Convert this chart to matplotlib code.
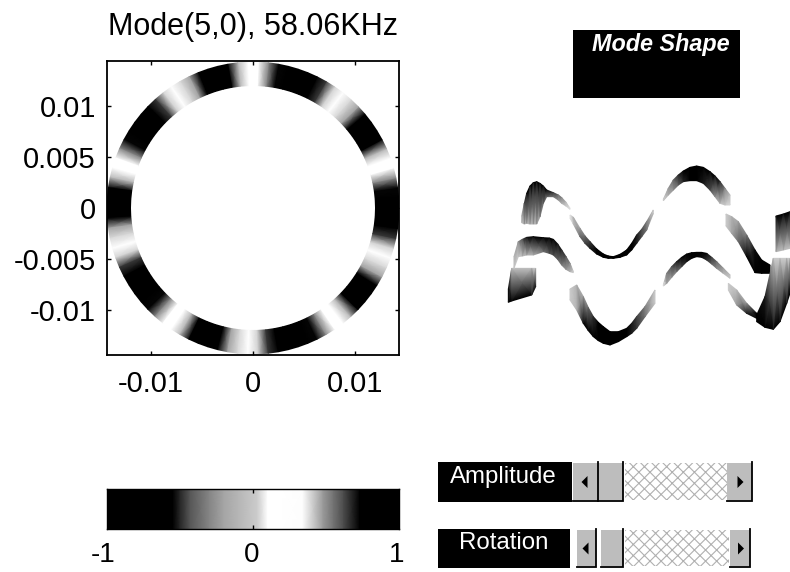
# coding: utf-8
import numpy as np
import matplotlib
matplotlib.use('Agg')
import matplotlib.pyplot as plt
from matplotlib.colors import LinearSegmentedColormap
from matplotlib.patches import Rectangle, Polygon

plt.rcParams['font.family'] = ['Liberation Sans', 'DejaVu Sans']
plt.rcParams['hatch.linewidth'] = 0.8

title = 'Mode(5,0), 58.06KHz'
x_ticks = [-0.01, 0, 0.01]
x_labels = ['-0.01', '0', '0.01']
y_ticks = [-0.01, -0.005, 0, 0.005, 0.01]
y_labels = ['-0.01', '-0.005', '0', '0.005', '0.01']
r_inner, r_outer = 0.0120, 0.0143

# grey level of the colour bar, read left to right
cbar_pos = [-1, -0.55, -0.43, -0.2, 0.03, 0.1, 0.34, 0.48, 0.62, 0.73, 1]
cbar_grey = [0, 0, 0.35, 0.65, 0.8, 1, 1, 0.6, 0.3, 0, 0]
cbar_vals = [-1, -0.9, -0.8, -0.7, -0.6, -0.55, -0.5, -0.43, -0.3, -0.2, -0.1, 0.03, 0.1, 0.2,
             0.34, 0.48, 0.55, 0.62, 0.73, 0.8, 0.9, 1]
cbar_labels = ['-1', '0', '1']

# ring value every 4 degrees, counter clockwise from the right side
ring_vals = [1, 1, .72, .5, .3, .1, -.1, -.55, -1, -1, -.55, -.2, .05, .2, .4, .65, 1, 1,
             1, 1, .72, .5, .3, .1, -.1, -.55, -1, -1, -.55, -.2, .05, .2, .4, .65, 1, 1,
             1, 1, .72, .5, .3, .1, -.1, -.55, -1, -1, -.55, -.2, .05, .2, .4, .65, 1, 1,
             1, 1, .72, .5, .3, .1, -.1, -.55, -1, -1, -.55, -.2, .05, .2, .4, .65, 1, 1,
             1, 1, .72, .5, .3, .1, -.1, -.55, -1, -1, -.55, -.2, .05, .2, .4, .65, 1, 1]

# ribbon pieces: x, top edge, bottom edge, darkness on top edge, darkness on bottom edge
bands = [
    # back wave
    ([95, 103, 110, 120, 130, 140, 150, 160, 170, 190, 205, 215, 228, 240],
     [228, 190, 160, 138, 128, 125, 130, 138, 150, 158, 165, 173, 187, 205],
     [248, 252, 250, 252, 252, 252, 230, 190, 170, 170, 180, 190, 198, 208],
     [.3, .75, 1, 1, 1, 1, 1, 1, 1, .8, .6, .5, .3, .1],
     [.25, .3, .3, .3, .3, .3, .4, .55, .6, .55, .4, .3, .2, .1]),
    ([240, 250, 270, 285, 300, 320, 340, 355, 370, 390, 410, 425, 440, 455, 470, 490],
     [225, 232, 265, 288, 305, 327, 342, 348, 350, 343, 330, 310, 285, 268, 245, 210],
     [235, 252, 290, 310, 325, 342, 352, 355, 355, 352, 345, 330, 310, 290, 270, 220],
     [.1, .3, .35, .55, .75, 1, 1, 1, 1, 1, 1, 1, .9, .7, .5, .2],
     [.1, .25, .6, .75, .9, 1, 1, 1, 1, 1, 1, 1, .9, .7, .55, .2]),
    ([520, 535, 550, 565, 580, 600, 620, 640, 660, 675, 690, 705, 720],
     [178, 145, 120, 105, 93, 82, 78, 82, 95, 108, 125, 145, 165],
     [182, 165, 150, 135, 125, 122, 122, 130, 150, 170, 190, 195, 195],
     [.2, .4, .6, .85, 1, 1, 1, 1, 1, 1, .9, .5, .25],
     [.2, .3, .4, .6, .85, 1, 1, .9, .7, .4, .25, .2, .15]),
    ([708, 725, 745, 770, 795, 815, 840],
     [222, 230, 245, 285, 330, 360, 375],
     [258, 280, 305, 350, 398, 400, 400],
     [.2, .3, .35, .5, .95, 1, 1],
     [.2, .35, .6, 1, 1, 1, 1]),
    ([858, 880, 900],
     [228, 222, 215],
     [335, 330, 325],
     [1, 1, 1],
     [.3, .25, .25]),
    # front wave
    ([55, 65, 125, 137],
     [447, 385, 385, 385],
     [487, 483, 465, 440],
     [1, .25, .25, .2],
     [1, 1, 1, .9]),
    ([72, 85, 97, 110, 130, 160, 178, 190, 203, 215, 228, 240, 250],
     [350, 305, 298, 292, 290, 293, 294, 298, 312, 330, 350, 370, 395],
     [385, 350, 348, 345, 345, 335, 340, 345, 358, 375, 388, 395, 398],
     [.3, .45, .7, .95, 1, 1, 1, 1, .95, .9, .7, .5, .2],
     [.2, .2, .25, .3, .3, .55, .65, .7, .6, .5, .4, .3, .15]),
    ([240, 260, 280, 295, 310, 325, 340, 360, 385, 410, 425, 440, 465, 495],
     [447, 435, 470, 503, 530, 547, 560, 575, 575, 565, 550, 530, 500, 450],
     [480, 510, 550, 572, 590, 602, 610, 615, 605, 590, 580, 565, 530, 490],
     [.2, .3, .35, .55, .8, 1, 1, 1, 1, 1, .9, .75, .5, .2],
     [.2, .3, 1, 1, 1, 1, 1, 1, 1, 1, .9, .8, .55, .2]),
    ([520, 530, 545, 560, 575, 590, 605, 620, 635, 650, 665, 680, 700, 720],
     [435, 400, 380, 365, 352, 342, 338, 337, 337, 340, 352, 365, 385, 405],
     [438, 430, 412, 395, 380, 365, 355, 350, 352, 360, 372, 385, 400, 415],
     [.15, .5, .7, .9, 1, 1, 1, 1, 1, 1, .8, .6, .4, .25],
     [.15, .35, .4, .5, .7, .9, 1, 1, .95, .8, .6, .45, .3, .2]),
    ([715, 740, 770, 800],
     [430, 450, 490, 520],
     [450, 495, 520, 535],
     [.2, .25, .4, 1],
     [.2, .4, .9, 1]),
    ([800, 825, 850, 870, 890, 900],
     [525, 470, 355, 355, 355, 355],
     [545, 562, 568, 545, 490, 460],
     [1, .9, .2, .2, .2, .2],
     [1, 1, 1, 1, 1, 1]),
]

slider_names = ['Amplitude', 'Rotation']

fig = plt.figure(figsize=(7.9, 5.72), dpi=100)
W, H = 790.0, 572.0


def px_axes(x0, y0, x1, y1):
    return fig.add_axes([x0 / W, 1 - y1 / H, (x1 - x0) / W, (y1 - y0) / H])


cmap = LinearSegmentedColormap.from_list(
    'scan', [((p + 1) / 2, (g, g, g)) for p, g in zip(cbar_pos, cbar_grey)], N=512)

# ring
ax = px_axes(107, 61, 399, 355)
th = np.radians(np.arange(len(ring_vals) + 1) * 4.0)
rr = np.array([r_inner, r_outer])
X = np.outer(rr, np.cos(th))
Y = np.outer(rr, np.sin(th))
C = np.array(ring_vals + ring_vals[:1])
C = np.vstack([C, C])
ax.pcolormesh(X, Y, C, cmap=cmap, vmin=-1, vmax=1, shading='gouraud')
ax.set_xlim(-0.0143, 0.0143)
ax.set_ylim(-0.0144, 0.0144)
ax.set_xticks(x_ticks)
ax.set_xticklabels(x_labels)
ax.set_yticks(y_ticks)
ax.set_yticklabels(y_labels)
ax.tick_params(direction='in', length=3, width=1, top=True, right=True, labelsize=21)
ax.tick_params(axis='x', pad=11)
ax.tick_params(axis='y', pad=8)
for s in ax.spines.values():
    s.set_linewidth(1.3)
fig.text(253 / W, 1 - 27 / H, title, ha='center', va='center', fontsize=22)

# colour bar
cax = px_axes(107, 489, 399, 529)
bx = np.array(cbar_vals, dtype=float)
cax.pcolormesh(bx, [0, 1], np.vstack([bx, bx]), cmap=cmap, vmin=-1, vmax=1, shading='gouraud')
cax.set_xlim(-1, 1)
cax.set_ylim(0, 1)
cax.set_yticks([])
cax.set_xticks([0])
cax.set_xticklabels([''])
cax.tick_params(direction='in', length=3, width=1, top=True)
for s in cax.spines.values():
    s.set_linewidth(1.0)
for lab, x in zip(cbar_labels, [103, 252, 397]):
    fig.text(x / W, 1 - 555 / H, lab, ha='center', va='center', fontsize=20)

# mode shape ribbons, axes units are the crop of the picture
rax = px_axes(490, 140, 790, 360)
for xs, top, bot, dt, db in bands:
    xs2 = np.array([xs, xs], dtype=float)
    ys2 = np.array([top, bot], dtype=float)
    rax.pcolormesh(xs2, ys2, np.array([dt, db]), cmap='gray_r', vmin=0, vmax=1, shading='gouraud')
rax.set_xlim(0, 900)
rax.set_ylim(660, 0)
rax.axis('off')

# widgets drawn in figure pixels
ui = px_axes(0, 0, 790, 572)
ui.set_xlim(0, 790)
ui.set_ylim(572, 0)
ui.axis('off')
ui.patch.set_alpha(0)
ui.add_patch(Rectangle((573, 30), 167, 68, fc='black', ec='none'))
ui.text(661, 45, 'Mode Shape', color='white', ha='center', va='center', fontsize=16.8,
        fontweight='bold', style='italic')

rows = [(462, 502, 438, 572, 573, 598, 598, 623, 625, 727, 727, 752),
        (529, 568, 438, 570, 577, 596, 601, 623, 625, 729, 730, 750)]
text_y = [477, 543]
for name, r, ty in zip(slider_names, rows, text_y):
    y0, y1, lx0, lx1, bx0, bx1, tx0, tx1, sx0, sx1, rx0, rx1 = r
    ui.add_patch(Rectangle((lx0, y0), lx1 - lx0, y1 - y0, fc='black', ec='none'))
    ui.text(503.5, ty, name, color='white', ha='center', va='center', fontsize=17.3)
    ui.add_patch(Rectangle((sx0, y0 + 1), sx1 - sx0, y1 - y0 - 3, fc='white', ec='#b0b0b0',
                           lw=0, hatch='xxx'))
    for a, b in [(bx0, bx1), (tx0, tx1), (rx0, rx1)]:
        ui.add_patch(Rectangle((a, y0 + 1), b - a, y1 - y0 - 3, fc='#bdbdbd', ec='none'))
        ui.plot([a, b, b], [y1 - 1, y1 - 1, y0], color='black', lw=1.3, solid_joinstyle='miter')
    ym = (y0 + y1) / 2
    lc = (bx0 + bx1) / 2
    rc = (rx0 + rx1) / 2
    ui.add_patch(Polygon([(lc - 4, ym), (lc + 2, ym - 6), (lc + 2, ym + 6)], fc='black', ec='none'))
    ui.add_patch(Polygon([(rc + 4, ym), (rc - 2, ym - 6), (rc - 2, ym + 6)], fc='black', ec='none'))

fig.savefig('out.png', dpi=100)
